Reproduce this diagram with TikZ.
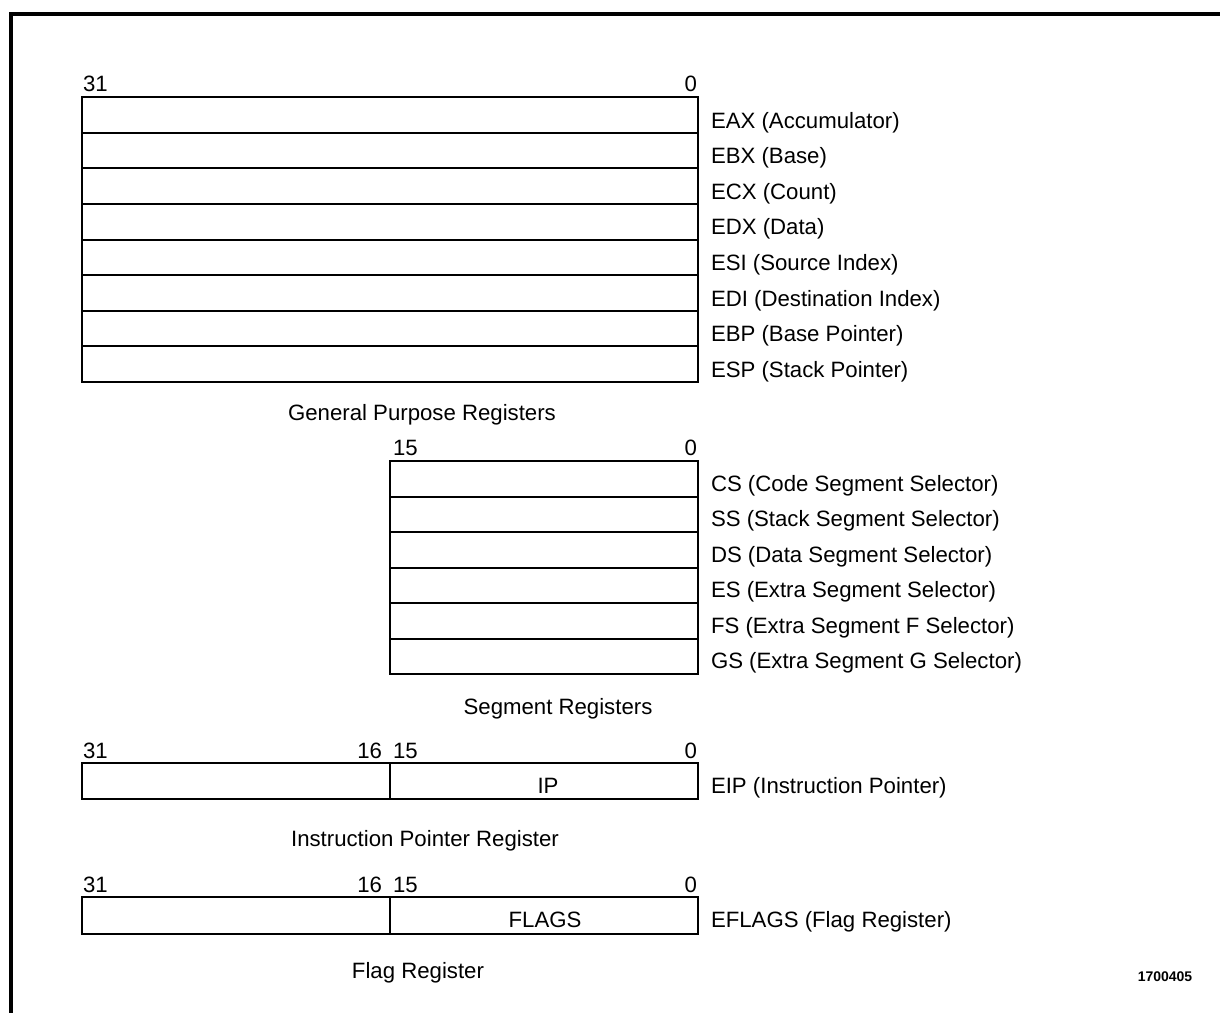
\documentclass[tikz,border=0pt]{standalone}
\usepackage{fontspec}
\setmainfont{Liberation Sans}
\begin{document}
\begin{tikzpicture}[x=0.5pt,y=-0.5pt,line width=1pt,
		txt/.style={inner sep=0pt,font=\fontsize{11.1}{13}\selectfont},
		bitno/.style={txt,anchor=base west},
		bitnoend/.style={txt,anchor=base east},
		regname/.style={txt,anchor=base west},
		caption/.style={txt,anchor=base}]
	\useasboundingbox (0,0) rectangle (1220,1012);
	% title, cut off by the top edge
	\node[inner sep=0pt,anchor=base west,font=\bfseries\fontsize{13}{15}\selectfont] (title) at (18,-7) {Figure 2-4. Application Register Set};
	\draw[line width=1.6pt] (11,1030)--(11,14)--(1240,14);

	% general purpose registers
	\draw (82,97) rectangle (698,382);
	\foreach \i in {1,...,7} \draw (82,{97+35.625*\i})--(698,{97+35.625*\i});
	\node[bitno] (gpr31) at (82,91) {31};
	\node[bitnoend] (gpr0) at (698,91) {0};
	\foreach \n/\t [count=\i from 0] in {eax/{EAX (Accumulator)},ebx/{EBX (Base)},ecx/{ECX (Count)},edx/{EDX (Data)},esi/{ESI (Source Index)},edi/{EDI (Destination Index)},ebp/{EBP (Base Pointer)},esp/{ESP (Stack Pointer)}}
		\node[regname] (\n) at (710,{128+35.625*\i}) {\t};
	\node[caption] (gprcap) at (422,420) {General Purpose Registers};

	% segment registers
	\draw (390,461) rectangle (698,674);
	\foreach \i in {1,...,5} \draw (390,{461+35.5*\i})--(698,{461+35.5*\i});
	\node[bitno] (seg15) at (392,455) {15};
	\node[bitnoend] (seg0) at (698,455) {0};
	\foreach \n/\t [count=\i from 0] in {cs/{CS (Code Segment Selector)},ss/{SS (Stack Segment Selector)},ds/{DS (Data Segment Selector)},es/{ES (Extra Segment Selector)},fs/{FS (Extra Segment F Selector)},gs/{GS (Extra Segment G Selector)}}
		\node[regname] (\n) at (710,{491+35.5*\i}) {\t};
	\node[caption] (segcap) at (558,714) {Segment Registers};

	% instruction pointer
	\draw (82,763) rectangle (698,799) (390,763)--(390,799);
	\node[bitno] (ip31) at (82,758) {31};
	\node[bitnoend] (ip16) at (383,758) {16};
	\node[bitno] (ip15) at (392,758) {15};
	\node[bitnoend] (ip0) at (698,758) {0};
	\node[caption] (ip) at (548,793) {IP};
	\node[regname] (eip) at (710,793) {EIP (Instruction Pointer)};
	\node[caption] (ipcap) at (425,846) {Instruction Pointer Register};

	% flags
	\draw (82,897) rectangle (698,934) (390,897)--(390,934);
	\node[bitno] (fl31) at (82,892) {31};
	\node[bitnoend] (fl16) at (383,892) {16};
	\node[bitno] (fl15) at (392,892) {15};
	\node[bitnoend] (fl0) at (698,892) {0};
	\node[caption] (flags) at (545,927) {FLAGS};
	\node[regname] (eflags) at (710,927) {EFLAGS (Flag Register)};
	\node[caption] (flcap) at (418,978) {Flag Register};

	\node[inner sep=0pt,anchor=base,font=\bfseries\fontsize{7}{8}\selectfont] (figno) at (1165,981) {1700405};
\end{tikzpicture}
\end{document}
